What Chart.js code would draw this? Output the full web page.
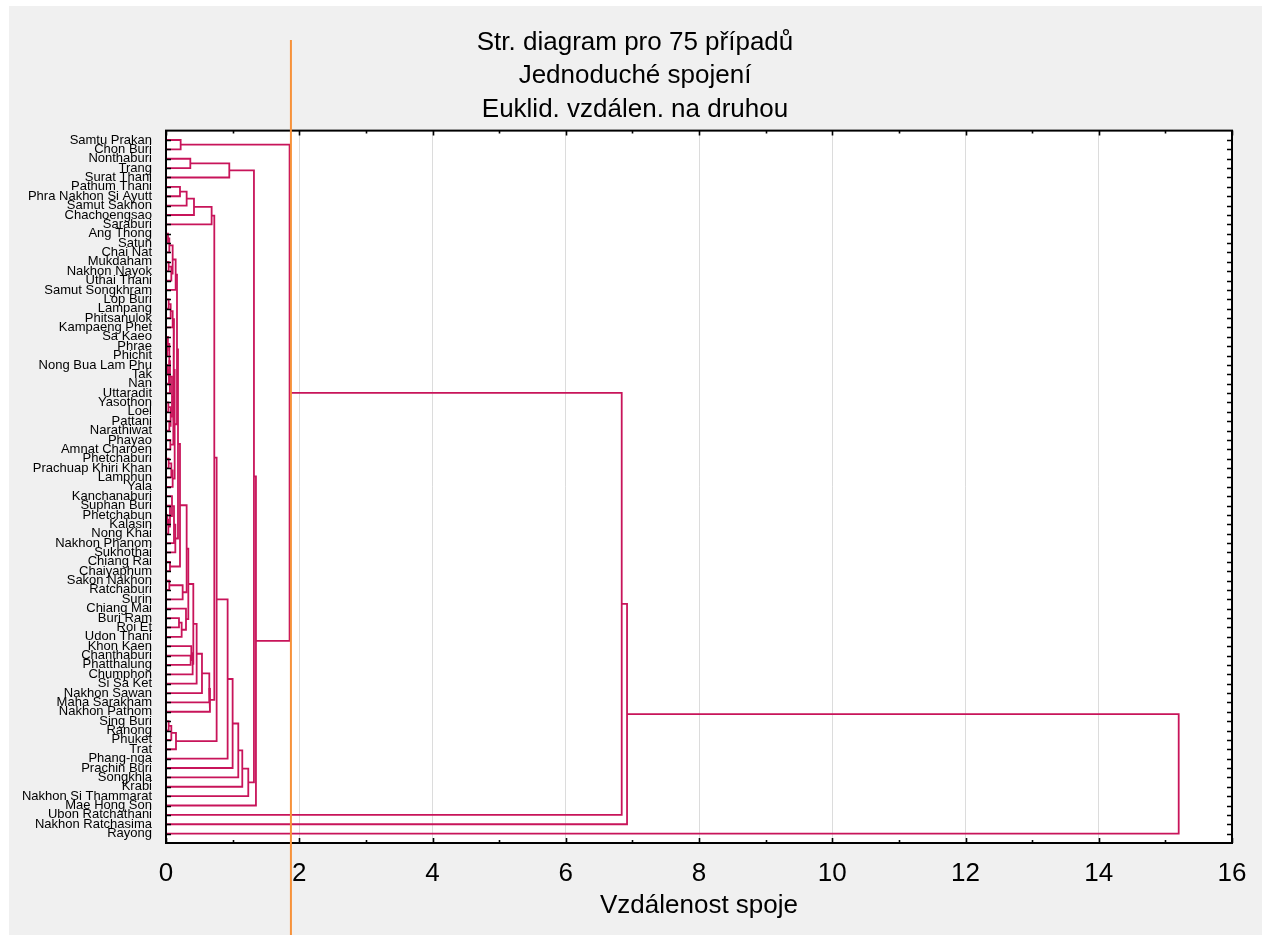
<!DOCTYPE html>
<html>
<head>
<meta charset="utf-8">
<script src="https://cdn.jsdelivr.net/npm/chart.js@4.4.1/dist/chart.umd.min.js"></script>
<style>
  html, body { margin: 0; padding: 0; background: #fff; }
  #wrap { width: 1270px; height: 935px; }
</style>
</head>
<body>
<div id="wrap"><canvas id="tree" width="1270" height="935"></canvas></div>
<script>
// leaves, top to bottom, as they appear on the tree diagram
const leafNames = [
  "Samtu Prakan", "Chon Buri", "Nonthaburi", "Trang", "Surat Thani",
  "Pathum Thani", "Phra Nakhon Si Ayutt", "Samut Sakhon", "Chachoengsao", "Saraburi",
  "Ang Thong", "Satun", "Chai Nat", "Mukdaham", "Nakhon Nayok",
  "Uthai Thani", "Samut Songkhram", "Lop Buri", "Lampang", "Phitsanulok",
  "Kampaeng Phet", "Sa Kaeo", "Phrae", "Phichit", "Nong Bua Lam Phu",
  "Tak", "Nan", "Uttaradit", "Yasothon", "Loel",
  "Pattani", "Narathiwat", "Phayao", "Amnat Charoen", "Phetchaburi",
  "Prachuap Khiri Khan", "Lamphun", "Yala", "Kanchanaburi", "Suphan Buri",
  "Phetchabun", "Kalasin", "Nong Khai", "Nakhon Phanom", "Sukhothai",
  "Chiang Rai", "Chaiyaphum", "Sakon Nakhon", "Ratchaburi", "Surin",
  "Chiang Mai", "Buri Ram", "Roi Et", "Udon Thani", "Khon Kaen",
  "Chanthaburi", "Phatthalung", "Chumphon", "Si Sa Ket", "Nakhon Sawan",
  "Maha Sarakham", "Nakhon Pathom", "Sing Buri", "Ranong", "Phuket",
  "Trat", "Phang-nga", "Prachin Buri", "Songkhla", "Krabi",
  "Nakhon Si Thammarat", "Mae Hong Son", "Ubon Ratchathani", "Nakhon Ratchasima", "Rayong"
];

// linkage distance at which leaf i and leaf i+1 end up in one cluster
const joinHeights = [
  0.22, 1.855, 0.365, 0.95, 1.32, 0.21, 0.31, 0.42, 0.685, 0.725,
  0.03, 0.05, 0.10, 0.04, 0.08, 0.145, 0.165, 0.04, 0.07, 0.10,
  0.12, 0.03, 0.02, 0.05, 0.025, 0.045, 0.06, 0.09, 0.035, 0.07,
  0.05, 0.11, 0.065, 0.13, 0.04, 0.08, 0.10, 0.18, 0.09, 0.06,
  0.02, 0.035, 0.12, 0.14, 0.21, 0.06, 0.31, 0.05, 0.25, 0.335,
  0.30, 0.195, 0.235, 0.41, 0.38, 0.37, 0.40, 0.46, 0.54, 0.65,
  0.66, 0.76, 0.04, 0.08, 0.15, 0.925, 1.0, 1.085, 1.145, 1.235,
  1.35, 6.84, 6.92, 15.2
];

const cutDistance = 1.875;

const titleLines = ["Str. diagram pro 75 případů", "Jednoduché spojení", "Euklid. vzdálen. na druhou"];
const xAxisTitle = "Vzdálenost spoje";

const LINK_COLOR = "#c8145a";
const FONT = "'Liberation Sans', Arial, sans-serif";

//------------------------------------------------------
// build the links: every range of leaves splits at its largest gap
//------------------------------------------------------
const links = [];
function build(lo, hi) {
  if (lo === hi) return { pos: lo, h: 0 };
  let k = lo;
  for (let i = lo; i < hi; i++) if (joinHeights[i] > joinHeights[k]) k = i;
  const a = build(lo, k);
  const b = build(k + 1, hi);
  const h = joinHeights[k];
  links.push([
    { x: a.h, y: a.pos }, { x: h, y: a.pos },
    { x: h, y: b.pos }, { x: b.h, y: b.pos },
  ]);
  return { pos: (a.pos + b.pos) / 2, h };
}
build(0, leafNames.length - 1);

const datasets = links.map((pts) => ({
  data: pts,
  showLine: true,
  borderColor: LINK_COLOR,
  borderWidth: 1.8,
  pointRadius: 0,
  pointHoverRadius: 0,
  tension: 0,
  fill: false,
}));

//------------------------------------------------------
// background, frame, inner ticks, cut line
//------------------------------------------------------
const decor = {
  id: "decor",
  beforeDraw(chart) {
    const { ctx, chartArea: ca } = chart;
    ctx.save();
    ctx.fillStyle = "#ffffff";
    ctx.fillRect(0, 0, chart.width, chart.height);
    ctx.fillStyle = "#f0f0f0";
    ctx.fillRect(9, 6, 1253, chart.height - 6);
    ctx.fillStyle = "#ffffff";
    ctx.fillRect(ca.left, ca.top, ca.right - ca.left, ca.bottom - ca.top);
    ctx.restore();
  },
  afterDraw(chart) {
    const { ctx, chartArea: ca, scales } = chart;
    ctx.save();
    ctx.strokeStyle = "#000";
    ctx.lineWidth = 1.6;
    ctx.beginPath();
    leafNames.forEach((_, i) => {
      const y = Math.round(scales.y.getPixelForValue(i)) + 0.5;
      ctx.moveTo(ca.left, y); ctx.lineTo(ca.left + 5, y);
      ctx.moveTo(ca.right, y); ctx.lineTo(ca.right - 5, y);
    });
    for (let v = 0; v <= 16; v++) {
      const x = Math.round(scales.x.getPixelForValue(v)) + 0.5;
      const len = v % 2 === 0 ? 5 : 3;
      ctx.moveTo(x, ca.bottom); ctx.lineTo(x, ca.bottom - len);
      ctx.moveTo(x, ca.top); ctx.lineTo(x, ca.top + len);
    }
    ctx.stroke();
    ctx.lineWidth = 2;
    ctx.strokeRect(ca.left, ca.top, ca.right - ca.left, ca.bottom - ca.top);

    const cx = scales.x.getPixelForValue(cutDistance);
    ctx.strokeStyle = "#f7923a";
    ctx.lineWidth = 2;
    ctx.beginPath();
    ctx.moveTo(cx, 40); ctx.lineTo(cx, chart.height);
    ctx.stroke();
    ctx.restore();
  },
};

new Chart(document.getElementById("tree"), {
  type: "scatter",
  data: { datasets },
  options: {
    responsive: false,
    animation: false,
    events: [],
    layout: { padding: 0 },
    plugins: {
      legend: { display: false },
      tooltip: { enabled: false },
      title: {
        display: true,
        text: titleLines,
        color: "#000",
        font: { family: FONT, size: 26, weight: "normal", lineHeight: 1.29 },
        padding: { top: 26, bottom: 4 },
      },
    },
    scales: {
      x: {
        type: "linear",
        position: "bottom",
        min: 0,
        max: 16,
        border: { display: false },
        grid: {
          drawTicks: false,
          lineWidth: 1,
          color: (c) => (c.tick && (c.tick.value === 0 || c.tick.value === 16) ? "rgba(0,0,0,0)" : "#dcdcdc"),
        },
        ticks: {
          stepSize: 2,
          color: "#000",
          padding: 15,
          font: { family: FONT, size: 26 },
          maxRotation: 0,
        },
        title: {
          display: true,
          text: xAxisTitle,
          color: "#000",
          font: { family: FONT, size: 26 },
          padding: { top: 0, bottom: 14 },
        },
        afterFit(s) { s.height = 92; },
      },
      y: {
        type: "linear",
        position: "left",
        reverse: true,
        min: -1,
        max: leafNames.length,
        border: { display: false },
        grid: { display: false, drawTicks: false },
        ticks: {
          stepSize: 1,
          autoSkip: false,
          color: "#000",
          padding: 14,
          font: { family: FONT, size: 13 },
          callback: (v) => (leafNames[v] !== undefined ? leafNames[v] : ""),
        },
        afterFit(s) { s.width = 166; },
      },
      spacer: {
        type: "linear",
        position: "right",
        display: true,
        border: { display: false },
        grid: { display: false, drawTicks: false },
        ticks: { display: false },
        afterFit(s) { s.width = 38; },
      },
    },
  },
  plugins: [decor],
});
</script>
</body>
</html>
